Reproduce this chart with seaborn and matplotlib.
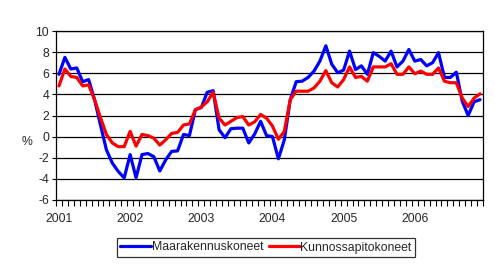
import numpy as np
import pandas as pd
import matplotlib
matplotlib.use("Agg")
import matplotlib.pyplot as plt
import seaborn as sns

years = ["2001", "2002", "2003", "2004", "2005", "2006"]
series_names = ["Maarakennuskoneet", "Kunnossapitokoneet"]

maarakennus = [5.9, 7.5, 6.4, 6.5, 5.2, 5.4, 3.5, 1.1, -1.25, -2.5, -3.3, -3.9,
               -1.7, -3.9, -1.7, -1.6, -1.9, -3.25, -2.2, -1.4, -1.35, 0.2, 0.1, 2.55,
               2.75, 4.2, 4.35, 0.65, -0.1, 0.75, 0.8, 0.8, -0.6, 0.25, 1.45, 0.1,
               0.0, -2.1, -0.3, 3.5, 5.2, 5.25, 5.6, 6.2, 7.15, 8.6, 6.85, 6.05,
               6.3, 8.1, 6.35, 6.7, 5.9, 7.95, 7.6, 7.15, 8.1, 6.6, 7.15, 8.25,
               7.15, 7.3, 6.7, 7.0, 7.95, 5.6, 5.6, 6.1, 3.35, 2.0, 3.3, 3.5]
kunnossapito = [4.8, 6.4, 5.7, 5.6, 4.8, 4.9, 3.5, 1.8, 0.2, -0.6, -0.95, -0.95,
                0.5, -0.9, 0.2, 0.1, -0.15, -0.8, -0.3, 0.3, 0.4, 1.1, 1.2, 2.55,
                2.8, 3.3, 4.2, 1.75, 1.1, 1.45, 1.8, 1.9, 1.1, 1.4, 2.1, 1.75,
                1.0, -0.25, 0.5, 3.5, 4.3, 4.3, 4.3, 4.6, 5.25, 6.25, 5.1, 4.7,
                5.4, 6.6, 5.6, 5.7, 5.25, 6.6, 6.6, 6.6, 6.9, 5.9, 5.9, 6.6,
                5.95, 6.2, 5.9, 5.9, 6.5, 5.25, 5.1, 5.1, 3.65, 2.85, 3.65, 4.05]

n = len(maarakennus)
months = np.arange(n)
df = pd.DataFrame({
    "month": np.concatenate([months, months]),
    "value": maarakennus + kunnossapito,
    "series": [series_names[0]] * n + [series_names[1]] * n,
})

sns.set_style("white")
plt.rcParams["font.family"] = ["Liberation Sans", "DejaVu Sans"]

fig = plt.figure(figsize=(4.95, 2.66), dpi=100)
ax = fig.add_axes([56 / 495, 1 - 200 / 266, (483 - 56) / 495, (200 - 31) / 266])

sns.lineplot(data=df, x="month", y="value", hue="series",
             palette={series_names[0]: "#0000FF", series_names[1]: "#FF0000"},
             linewidth=2.3, ax=ax, legend=False, zorder=3)

ax.set_xlim(-0.5, n - 0.5)
ax.set_ylim(-6, 10)
ax.set_yticks(np.arange(-6, 11, 2))
ax.set_yticklabels([str(v) for v in range(-6, 11, 2)], fontsize=8.8)
ax.set_xticks(np.arange(0, n, 12))
ax.set_xticklabels(years, fontsize=8.8)
ax.set_xticks(np.arange(-0.5, n, 1), minor=True)
ax.tick_params(axis="x", which="major", length=0, pad=9)
ax.tick_params(axis="x", which="minor", length=4, width=0.8, color="black", direction="out")
ax.tick_params(axis="y", which="major", length=3, width=0.8, color="black", direction="out", pad=2)
ax.xaxis.set_ticks_position("bottom")
ax.yaxis.set_ticks_position("left")
ax.set_xlabel("")
ax.set_ylabel("")
ax.yaxis.grid(True, color="black", linewidth=0.9)
ax.xaxis.grid(False)
ax.set_axisbelow(True)
for s in ax.spines.values():
    s.set_visible(True)
    s.set_color("black")
    s.set_linewidth(0.9)

fig.text(27 / 495, 1 - 142 / 266, "%", fontsize=8.8, ha="center", va="center")

handles = [plt.Line2D([], [], color="#0000FF", lw=2.3),
           plt.Line2D([], [], color="#FF0000", lw=2.3)]
leg = fig.legend(handles, series_names, loc="center", bbox_to_anchor=(266 / 495, 1 - 247.5 / 266),
                 ncol=2, fontsize=8.8, frameon=True, fancybox=False, handlelength=2.5,
                 handletextpad=0.05, columnspacing=0.5, borderpad=0.3, borderaxespad=0)
leg.get_frame().set_edgecolor("black")
leg.get_frame().set_linewidth(0.9)

fig.savefig("out.png", dpi=100, facecolor="white")
